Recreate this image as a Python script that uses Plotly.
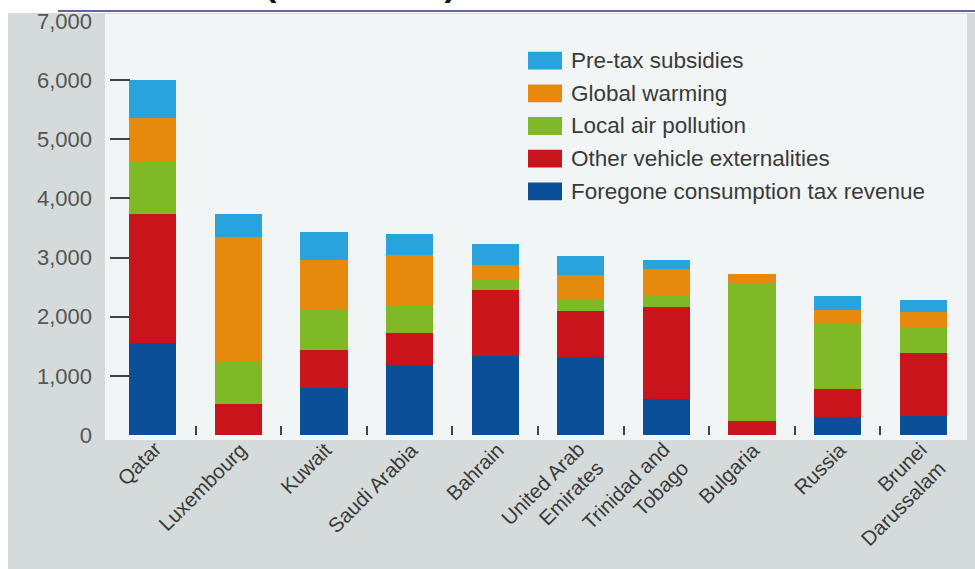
import plotly.graph_objects as go

# Per-capita cost components by country (US dollars)
countries = ["Qatar", "Luxembourg", "Kuwait", "Saudi Arabia", "Bahrain",
             "United Arab<br>Emirates", "Trinidad and<br>Tobago", "Bulgaria",
             "Russia", "Brunei<br>Darussalam"]
foregone_tax = [1560, 0, 800, 1185, 1340, 1320, 615, 0, 307, 318]
other_vehicle = [2180, 530, 636, 547, 1117, 783, 1546, 240, 475, 1077]
local_air = [870, 700, 687, 447, 168, 184, 184, 2330, 1089, 419]
global_warming = [750, 2120, 838, 865, 251, 418, 458, 157, 251, 263]
pretax_subsidies = [640, 390, 474, 352, 352, 324, 157, 0, 223, 213]

y_ticks = [0, 1000, 2000, 3000, 4000, 5000, 6000, 7000]

# Stack order bottom -> top
series = [
    ("Foregone consumption tax revenue", foregone_tax, "#0b4f99"),
    ("Other vehicle externalities", other_vehicle, "#c9141c"),
    ("Local air pollution", local_air, "#80b927"),
    ("Global warming", global_warming, "#e58a0c"),
    ("Pre-tax subsidies", pretax_subsidies, "#29a3dc"),
]

W, H = 975, 569
L, R, T, B = 110, 9, 17, 134
PW, PH = W - L - R, H - T - B


def px(x):
    return (x - L) / PW


def py(y):
    return (H - B - y) / PH


FONT = "Liberation Sans, Arial, sans-serif"
TEXT = "#3a3a3a"
XFS = 20.5

fig = go.Figure()
for name, vals, col in series:
    fig.add_trace(go.Bar(x=countries, y=vals, name=name, marker_color=col,
                         marker_line_width=0, showlegend=False))

shapes = [
    # outer grey frame
    dict(type="rect", xref="paper", yref="paper", x0=px(8), x1=px(W + 2),
         y0=py(H + 2), y1=py(9), fillcolor="#d5dbda", line_width=0, layer="below"),
    # light chart panel
    dict(type="rect", xref="paper", yref="paper", x0=px(105), x1=px(967),
         y0=py(440), y1=py(10), fillcolor="#f1f5f5", line_width=0, layer="below"),
    # rule under the heading
    dict(type="line", xref="paper", yref="paper", x0=px(58), x1=px(W + 2),
         y0=py(7), y1=py(7), line=dict(color="#6762a5", width=2)),
]

annotations = [
    dict(text="<b>(US dollars)</b>", xref="paper", yref="paper",
         x=px(360), y=py(1), xanchor="center", yanchor="bottom",
         showarrow=False, font=dict(family=FONT, size=34, color="#111111")),
]

# Category labels: rotated, right-aligned lines ending just below each bar
for c in countries:
    nlines = c.count("<br>") + 1
    annotations.append(dict(
        text=c, xref="x", yref="paper", x=c, y=py(435),
        xanchor="right", yanchor="top", align="right", textangle=-45,
        xshift=1 + 14.3 * nlines, showarrow=False,
        font=dict(family=FONT, size=XFS, color=TEXT)))

# Legend: swatches and labels, top to bottom
leg_x0, leg_w, leg_h = 528, 34, 18
leg_rows = [57, 90, 123, 156, 189]
for (name, vals, col), yc in zip(reversed(series), leg_rows):
    shapes.append(dict(type="rect", xref="paper", yref="paper",
                       x0=px(leg_x0), x1=px(leg_x0 + leg_w),
                       y0=py(yc + leg_h / 2), y1=py(yc - leg_h / 2),
                       fillcolor=col, line_width=0))
    annotations.append(dict(text=name, xref="paper", yref="paper",
                            x=px(569), y=py(yc), xanchor="left", yanchor="middle",
                            showarrow=False,
                            font=dict(family=FONT, size=22.5, color=TEXT)))

fig.update_layout(
    width=W, height=H,
    margin=dict(l=L, r=R, t=T, b=B),
    paper_bgcolor="white",
    plot_bgcolor="#f1f5f5",
    barmode="stack",
    bargap=0.45,
    shapes=shapes,
    annotations=annotations,
    font=dict(family=FONT, color=TEXT),
    xaxis=dict(range=[-0.5, 9.5], tickson="boundaries", ticks="inside",
               ticklen=9, tickwidth=1.5, tickcolor="#444444",
               showticklabels=False,
               showline=False, showgrid=False, zeroline=False),
    yaxis=dict(range=[0, 7000], tickvals=y_ticks, tickformat=",d",
               ticks="inside", ticklen=20, tickwidth=2, tickcolor="#444444",
               tickfont=dict(size=22, color="#555555"), ticklabelstandoff=17,
               showline=False, showgrid=False, zeroline=False),
)

fig.write_html("out.html")
